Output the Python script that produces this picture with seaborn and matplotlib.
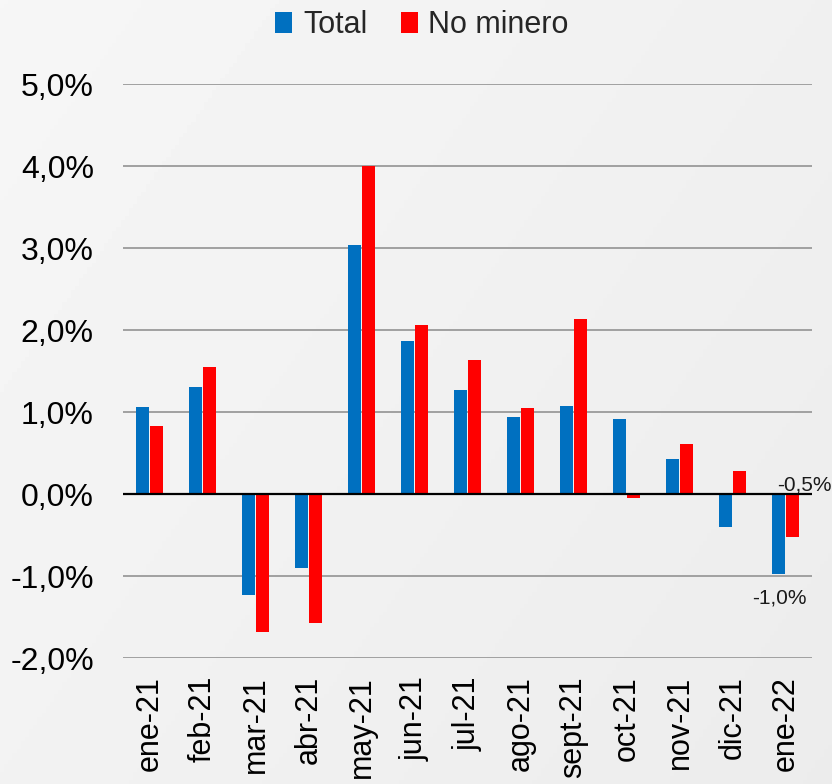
import numpy as np
import pandas as pd
import matplotlib
matplotlib.use("Agg")
import matplotlib.pyplot as plt
from matplotlib.patches import Patch
from matplotlib.ticker import FuncFormatter, MultipleLocator
import seaborn as sns

months = ["ene-21", "feb-21", "mar-21", "abr-21", "may-21", "jun-21",
          "jul-21", "ago-21", "sept-21", "oct-21", "nov-21", "dic-21", "ene-22"]
total = [1.06, 1.30, -1.23, -0.90, 3.04, 1.87, 1.27, 0.94, 1.07, 0.91, 0.43, -0.40, -0.98]
no_minero = [0.83, 1.55, -1.68, -1.57, 4.00, 2.06, 1.63, 1.05, 2.14, -0.05, 0.61, 0.28, -0.53]
series = ["Total", "No minero"]
colors = ["#0070C0", "#FF0000"]
last_labels = ["-1,0%", "-0,5%"]

df = pd.DataFrame({
    "mes": months * 2,
    "serie": [series[0]] * len(months) + [series[1]] * len(months),
    "valor": total + no_minero,
})

sns.set_theme(style="white")
plt.rcParams["font.family"] = ["Liberation Sans", "DejaVu Sans"]

fig = plt.figure(figsize=(8.32, 7.84), dpi=100)
# soft grey background
bg = fig.add_axes([0, 0, 1, 1], zorder=-10)
gy, gx = np.mgrid[0:1:200j, 0:1:200j]
grad = 0.965 - 0.04 * (0.6 * gx + 0.4 * gy)
bg.imshow(grad, cmap="gray", vmin=0, vmax=1, aspect="auto", extent=[0, 1, 0, 1])
bg.axis("off")

ax = fig.add_axes([123 / 832, 1 - 658 / 784, (812 - 123) / 832, (658 - 84) / 784])
ax.patch.set_alpha(0)

sns.barplot(data=df, x="mes", y="valor", hue="serie", order=months, hue_order=series,
            palette=dict(zip(series, colors)), width=0.52, gap=0.1, saturation=1,
            ax=ax, legend=False, edgecolor="none")

ax.set_ylim(-2, 5)
ax.yaxis.set_major_locator(MultipleLocator(1))
ax.yaxis.set_major_formatter(FuncFormatter(lambda v, p: f"{v:.1f}%".replace(".", ",")))
ax.grid(axis="y", color="#a0a0a0", linewidth=1.4)
ax.set_axisbelow(True)
ax.axhline(0, color="black", linewidth=1.6, zorder=3)
for s in ax.spines.values():
    s.set_visible(False)
ax.set_xlabel("")
ax.set_ylabel("")
ax.tick_params(axis="y", length=0, pad=21, labelsize=23, labelcolor="black")
ax.tick_params(axis="x", length=0, pad=13, labelsize=22, labelcolor="black", rotation=90)
ax.set_xlim(-0.5, len(months) - 0.5)

n = len(months) - 1
ax.text(n + 0.36, 0.11, last_labels[1], fontsize=15, ha="center", va="center", color="#1a1a1a")
ax.text(n - 0.12, -1.27, last_labels[0], fontsize=15, ha="center", va="center", color="#1a1a1a")

handles = [Patch(facecolor=c, edgecolor="none", label=l) for c, l in zip(colors, series)]
fig.legend(handles=handles, loc="center", bbox_to_anchor=(422 / 832, 1 - 25 / 784), ncol=2,
           frameon=False, fontsize=22, handlelength=0.55, handleheight=0.7,
           handletextpad=0.35, columnspacing=1.1)

fig.savefig("out.png", dpi=100)
